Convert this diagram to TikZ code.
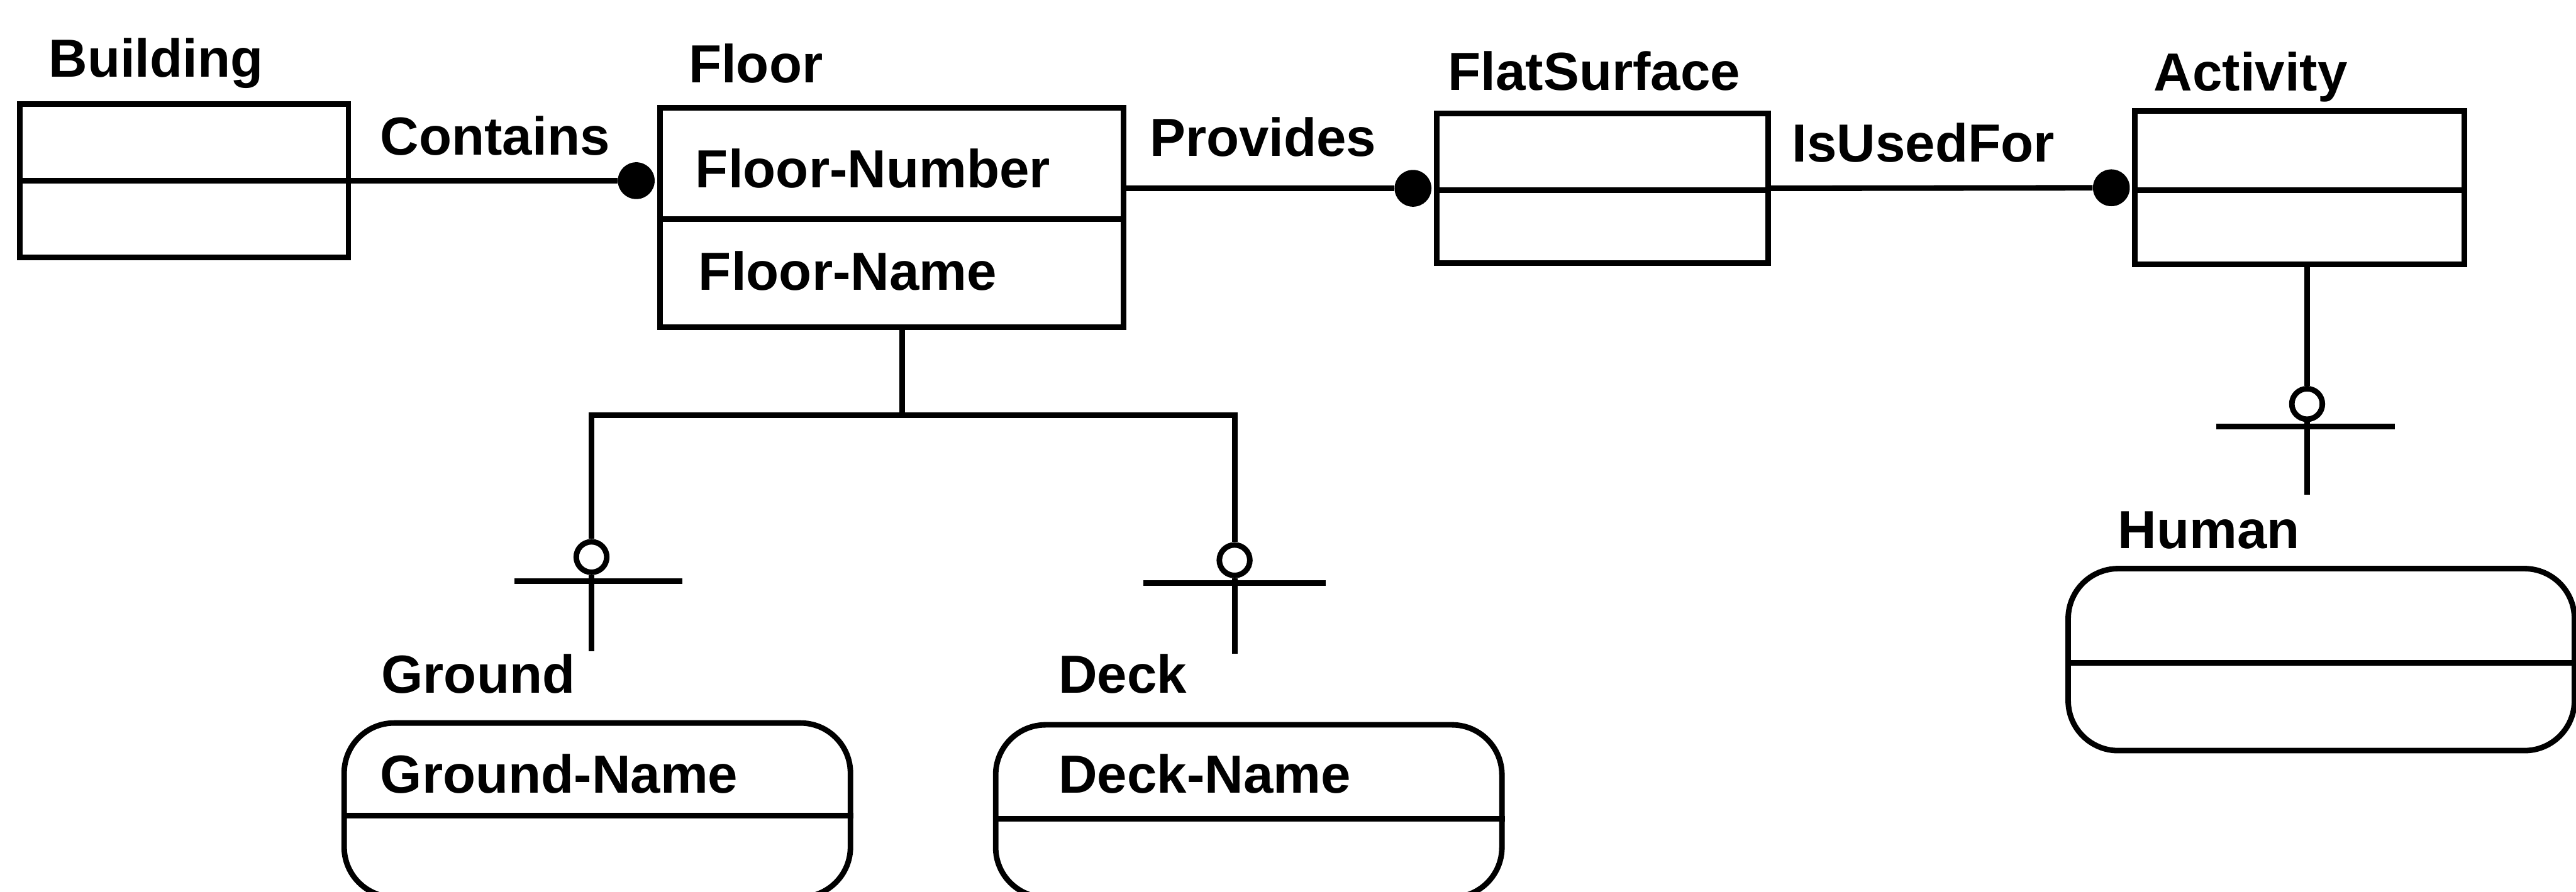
\documentclass[tikz,border=0pt]{standalone}
\usepackage{fontspec}
\setmainfont{Liberation Sans}
\usetikzlibrary{positioning, calc}

\begin{document}
\begin{tikzpicture}[
  ent/.style={draw, line width=3pt, inner sep=0pt},
  rent/.style={ent, rounded corners=0.95cm},
  txt/.style={anchor=base west, inner sep=0pt, font=\fontsize{29}{34}\selectfont\bfseries},
  conn/.style={line width=3pt},
  dot/.style={circle, fill=black, inner sep=0pt, minimum size=0.7cm},
  ring/.style={circle, draw, fill=white, line width=3pt, inner sep=0pt, minimum size=0.58cm}
]
\path[use as bounding box, clip] (0,0) rectangle (48.95,-16.95);

% Entity boxes
\node[ent, minimum width=6.24cm, minimum height=2.91cm] (building) at (3.50,-3.435) {};
\node[ent, minimum width=8.81cm, minimum height=4.17cm] (floor) at (16.945,-4.135) {};
\node[ent, minimum width=6.30cm, minimum height=2.84cm] (flat) at (30.45,-3.58) {};
\node[ent, minimum width=6.26cm, minimum height=2.92cm] (activity) at (43.70,-3.57) {};
\node[rent, minimum width=9.62cm, minimum height=3.31cm] (ground) at (11.35,-15.40) {};
\node[rent, minimum width=9.62cm, minimum height=3.28cm] (deck) at (23.73,-15.42) {};
\node[rent, minimum width=9.62cm, minimum height=3.46cm] (human) at (44.11,-12.54) {};

% Dividers
\draw[conn] (building.west) -- (building.east);
\draw[conn] ([yshift=-0.03cm]floor.west) -- ([yshift=-0.03cm]floor.east);
\draw[conn] ([yshift=-0.04cm]flat.west) -- ([yshift=-0.04cm]flat.east);
\draw[conn] ([yshift=-0.05cm]activity.west) -- ([yshift=-0.05cm]activity.east);
\draw[conn] ([yshift=-0.11cm]ground.west) -- ([yshift=-0.11cm]ground.east);
\draw[conn] ([yshift=-0.15cm]deck.west) -- ([yshift=-0.15cm]deck.east);
\draw[conn] ([yshift=-0.06cm]human.west) -- ([yshift=-0.06cm]human.east);

% Entity names
\node[txt] (lbuilding) at (0.92,-1.46) {Building};
\node[txt] (lfloor) at (13.08,-1.57) {Floor};
\node[txt] (lflat) at (27.51,-1.71) {FlatSurface};
\node[txt] (lactivity) at (40.92,-1.73) {Activity};
\node[txt] (lground) at (7.24,-13.17) {Ground};
\node[txt] (ldeck) at (20.11,-13.17) {Deck};
\node[txt] (lhuman) at (40.24,-10.43) {Human};

% Attributes
\node[txt] (fnum) at (13.21,-3.57) {Floor-Number};
\node[txt] (fname) at (13.27,-5.51) {Floor-Name};
\node[txt] (gname) at (7.22,-15.08) {Ground-Name};
\node[txt] (dname) at (20.11,-15.08) {Deck-Name};

% Relationships
\node[txt] (contains) at (7.22,-2.94) {Contains};
\node[txt] (provides) at (21.84,-2.97) {Provides};
\node[txt] (usedfor) at (34.05,-3.08) {IsUsedFor};

\node[dot, anchor=east, xshift=-0.04cm] (cdot) at (floor.west |- building.east) {};
\node[dot, anchor=east, xshift=-0.04cm] (pdot) at (flat.west) {};
\node[dot, anchor=east, xshift=-0.04cm] (udot) at (activity.west) {};
\draw[conn] (building.east) -- (cdot);
\draw[conn] (floor.east |- pdot) -- (pdot);
\draw[conn] (flat.east) -- (udot);

% Subtypes
\coordinate (fork) at ([xshift=0.2cm, yshift=-1.62cm]floor.south);
\node[ring] (gring) at (11.24,-10.59) {};
\node[ring] (dring) at (23.46,-10.65) {};
\node[ring] (hring) at (43.84,-7.68) {};
\coordinate (gend) at ([yshift=-1.79cm]gring.center);
\coordinate (dend) at ([yshift=-1.78cm]dring.center);
\coordinate (hend) at ([yshift=-1.73cm]hring.center);

\draw[conn] (floor.south -| fork) -- (fork);
\draw[conn] (gring.north) |- (fork) -| (dring.north);
\draw[conn] (hring.north |- activity.south) -- (hring.north);

\draw[conn] (gring.south) -- (gend);
\draw[conn] (dring.south) -- (dend);
\draw[conn] (hring.south) -- (hend);
\draw[conn] ([xshift=-1.46cm, yshift=-0.46cm]gring.center) -- ++(3.19,0);
\draw[conn] ([xshift=-1.73cm, yshift=-0.43cm]dring.center) -- ++(3.46,0);
\draw[conn] ([xshift=-1.73cm, yshift=-0.43cm]hring.center) -- ++(3.40,0);
\end{tikzpicture}
\end{document}
